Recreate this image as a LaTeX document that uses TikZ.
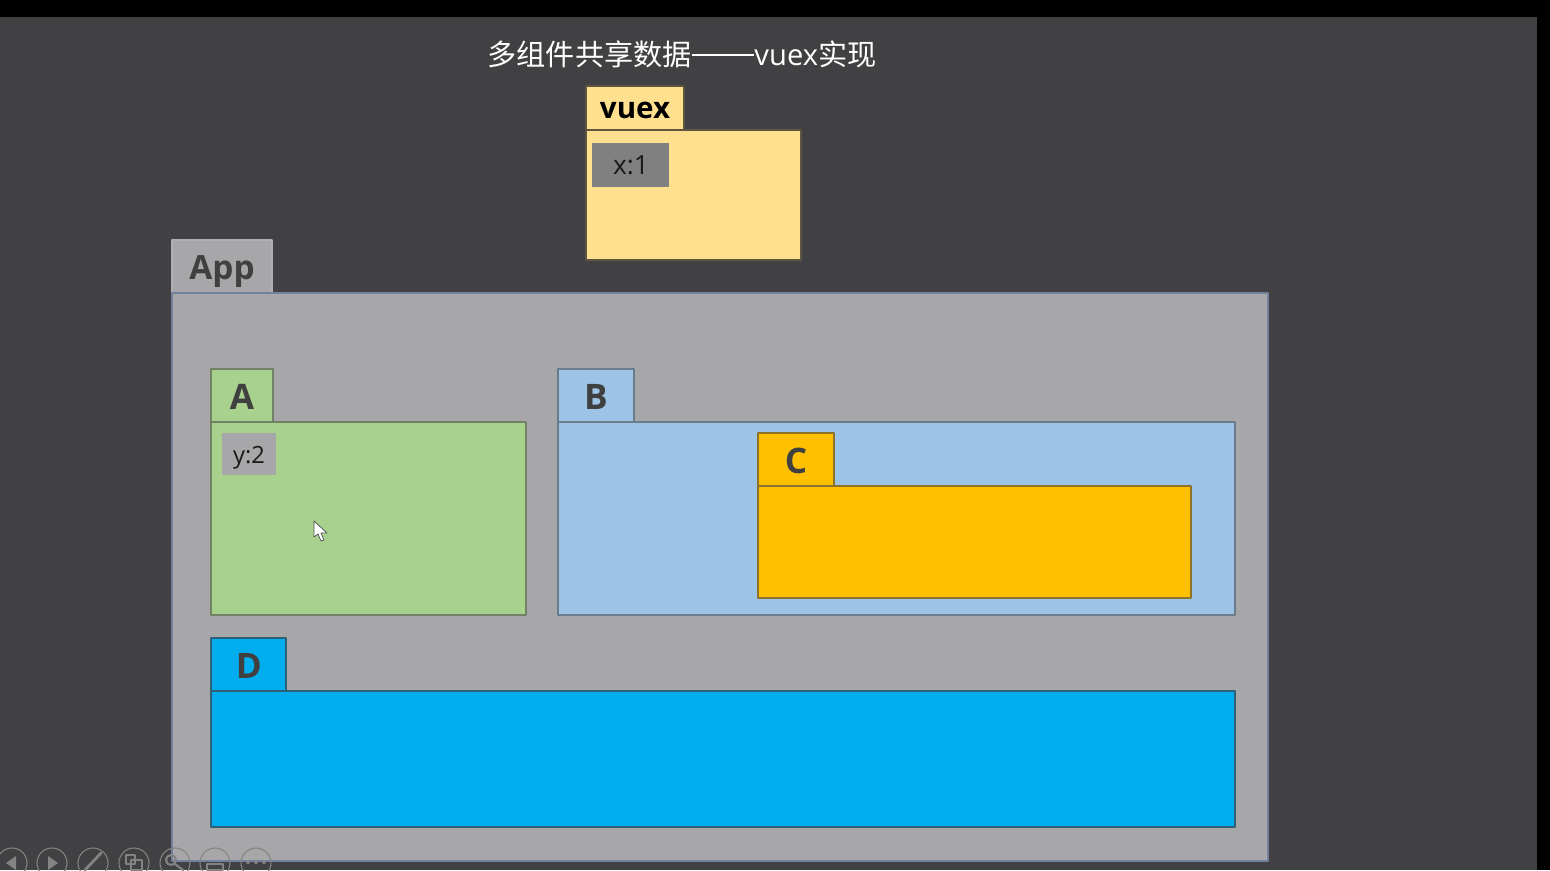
\documentclass[tikz,border=0pt]{standalone}
\usepackage{fontspec}
\setmainfont{Open Sans}
\newfontfamily\cjk{Noto Sans CJK SC}
\definecolor{slide}{HTML}{414042}
\definecolor{appgray}{HTML}{A7A7A9}
\definecolor{appedge}{HTML}{71819F}
\definecolor{vuexyellow}{HTML}{FFE08F}
\definecolor{agreen}{HTML}{A9D18E}
\definecolor{bblue}{HTML}{9DC3E6}
\definecolor{corange}{HTML}{FFC000}
\definecolor{dblue}{HTML}{00AEEF}
\definecolor{textdark}{HTML}{404040}
\tikzset{
	panel/.style={draw=#1, line width=.6pt, line join=round},
	tablabel/.style={font=\bfseries\fontsize{20}{24}\selectfont, text=textdark, inner sep=0pt},
	datalabel/.style={font=\fontsize{15}{18}\selectfont, text=black!90, inner sep=0pt},
	toolicon/.style={draw=white!35!slide, line width=.6pt}
}
\begin{document}
\begin{tikzpicture}[x=.02cm, y=-.02cm, line join=round, line cap=round]
	\useasboundingbox (0,0) rectangle (1550,870);
	\clip (0,0) rectangle (1550,870);
	\fill[black] (0,0) rectangle (1550,870);
	\fill[slide] (0,17) rectangle (1537,870);
	% title
	\node[text=white, inner sep=0pt, font=\fontsize{16.6}{20}\selectfont] (title) at (682,54)
		{{\cjk 多组件共享数据}\rule[.32em]{2.15em}{.05em}vuex{\cjk 实现}};
	% store
	\draw[panel=black!55!vuexyellow!60!slide, fill=vuexyellow] (586,86) rectangle (684,130);
	\draw[panel=black!55!vuexyellow!60!slide, fill=vuexyellow] (586,130) rectangle (801,260);
	\node[tablabel, text=black, font=\bfseries\fontsize{16.8}{20}\selectfont] (vuex) at (635,110) {vuex};
	\fill[fill=black!50!white] (592,143) rectangle (669,187);
	\node[datalabel] (xval) at (631,165) {x:1};
	% root component
	\draw[panel=appgray!90!white, fill=appgray] (172,240) rectangle (272,293);
	\draw[panel=appedge, fill=appgray] (172,293) rectangle (1268,861);
	\node[tablabel, font=\bfseries\fontsize{19}{23}\selectfont] (app) at (222,272) {App};
	% component A
	\draw[panel=agreen!45!slide, fill=agreen] (211,369) rectangle (273,422);
	\draw[panel=agreen!45!slide, fill=agreen] (211,422) rectangle (526,615);
	\node[tablabel] (compA) at (242,397) {A};
	\fill[appgray] (222,433) rectangle (276,475);
	\node[datalabel, font=\fontsize{13.5}{16}\selectfont] (yval) at (249,458) {y:2};
	% component B
	\draw[panel=bblue!45!slide, fill=bblue] (558,369) rectangle (634,422);
	\draw[panel=bblue!45!slide, fill=bblue] (558,422) rectangle (1235,615);
	\node[tablabel] (compB) at (596,397) {B};
	% component C inside B
	\draw[panel=corange!40!slide, fill=corange] (758,433) rectangle (834,486);
	\draw[panel=corange!40!slide, fill=corange] (758,486) rectangle (1191,598);
	\node[tablabel] (compC) at (796,461) {C};
	% component D
	\draw[panel=dblue!30!slide, fill=dblue] (211,638) rectangle (286,691);
	\draw[panel=dblue!30!slide, fill=dblue] (211,691) rectangle (1235,827);
	\node[tablabel] (compD) at (249,666) {D};
	% mouse pointer
	\draw[fill=white, draw=black!70, line width=.4pt] (314,521) -- (314,537) -- (318,534) -- (321,541)
		-- (324,540) -- (321,533) -- (327,533) -- cycle;
	% toolbar at the bottom
	\foreach \cx in {12,52,93,134,175,215,256}
		\draw[toolicon] (\cx,863) circle [radius=15];
	\fill[white!35!slide] (6,863) -- (16,856) -- (16,870) -- cycle;
	\fill[white!35!slide] (58,863) -- (48,856) -- (48,870) -- cycle;
	\draw[white!35!slide, line width=1.6pt] (85,870) -- (101,853);
	\draw[white!35!slide, line width=1pt] (126,855) rectangle (135,864) (131,860) rectangle (142,870);
	\draw[white!35!slide, line width=1.2pt] (171,860) circle [radius=5] (175,864) -- (183,870);
	\draw[white!35!slide, line width=.7pt] (207,864) rectangle (223,870);
	\foreach \dx in {248,256,264}
		\fill[white!35!slide] (\dx,862) circle [radius=2];
\end{tikzpicture}
\end{document}
